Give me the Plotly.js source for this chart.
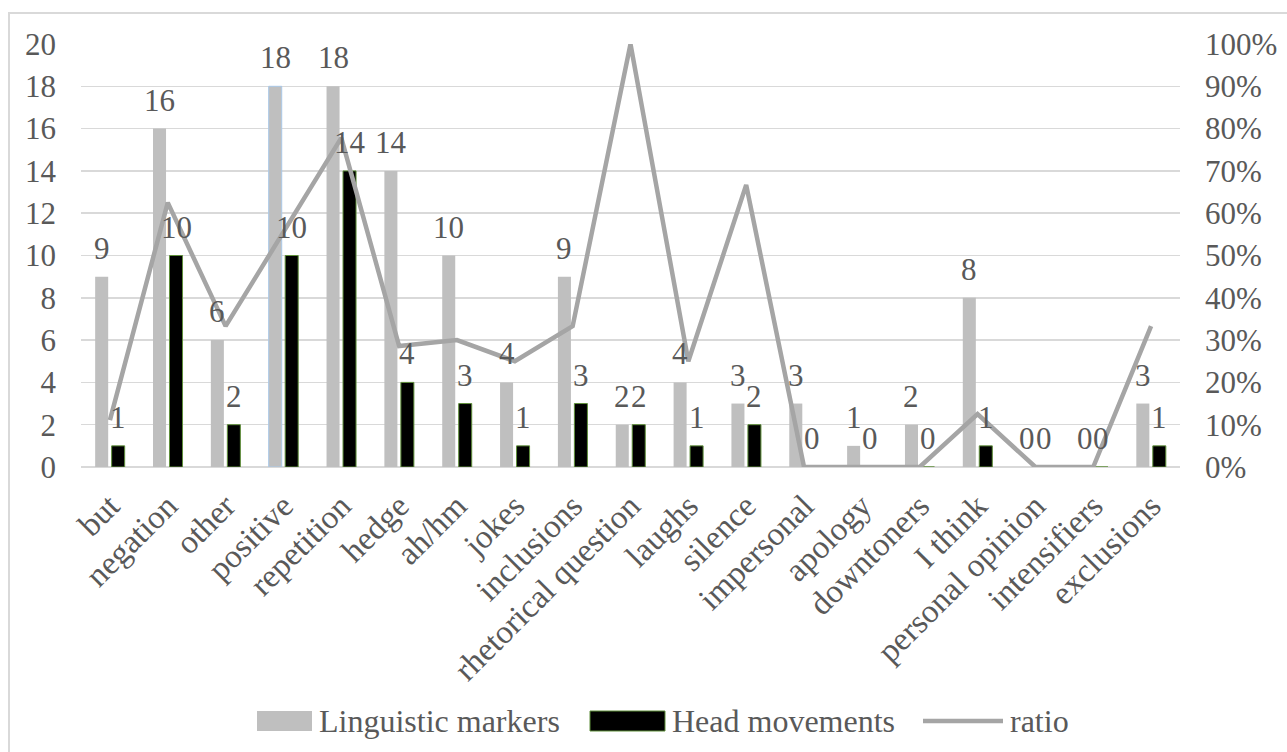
<!DOCTYPE html>
<html>
<head>
<meta charset="utf-8">
<script src="https://cdn.plot.ly/plotly-3.0.1.min.js"></script>
<style>
html,body{margin:0;padding:0;width:1287px;height:752px;overflow:hidden;background:#fff;}
#frame{position:absolute;left:8px;top:12px;width:1300px;height:800px;border:2px solid #d9d9d9;box-sizing:border-box;}
#chart{position:absolute;left:0;top:0;width:1287px;height:752px;}
</style>
</head>
<body>
<div id="frame"></div>
<div id="chart"></div>
<script>
const categories = ["but","negation","other","positive","repetition","hedge","ah/hm","jokes","inclusions","rhetorical question","laughs","silence","impersonal","apology","downtoners","I think","personal opinion","intensifiers","exclusions"];
const linguisticMarkers = [9,16,6,18,18,14,10,4,9,2,4,3,3,1,2,8,0,0,3];
const headMovements = [1,10,2,10,14,4,3,1,3,2,1,2,0,0,0,1,0,0,1];
const ratio = [0.111,0.625,0.333,0.556,0.778,0.286,0.30,0.25,0.333,1.0,0.25,0.667,0,0,0,0.125,0,0,0.333];
const leftTicks = [0,2,4,6,8,10,12,14,16,18,20];
const rightTicks = [0,0.1,0.2,0.3,0.4,0.5,0.6,0.7,0.8,0.9,1.0];
const seriesNames = ["Linguistic markers","Head movements","ratio"];
const seriesColors = ["#bfbfbf","#000000","#a5a5a5"];

const font = "Liberation Serif";
const txt = "#595959";

// plot area geometry (pixels)
const W = 1287, H = 752, M = {l: 81, r: 107, t: 44, b: 285};
const pw = W - M.l - M.r, ph = H - M.t - M.b;
const px = v => (v - M.l) / pw;
const py = v => (H - M.b - v) / ph;

const BARGAP = 0.43, GROUPGAP = 0.21;
// horizontal offset of each bar's centre from its category centre, in pixels
const catW = pw / categories.length;
const slotOff = (1 - BARGAP) * catW / 4;

const lmLineColors = categories.map(c => c === "positive" ? "#a9c8e8" : "rgba(0,0,0,0)");

const traces = [
  {
    type: "bar", name: seriesNames[0], x: categories, y: linguisticMarkers,
    marker: {color: seriesColors[0], line: {color: lmLineColors, width: 1}}, hoverinfo: "x+y"
  },
  {
    type: "bar", name: seriesNames[1], x: categories, y: headMovements,
    marker: {color: seriesColors[1], line: {color: "#5f8f3a", width: 1}}, hoverinfo: "x+y"
  },
  {
    type: "scatter", mode: "lines", name: seriesNames[2], x: categories, y: ratio, yaxis: "y2",
    line: {color: seriesColors[2], width: 4.5}, hoverinfo: "x+y"
  }
];

// data labels placed on the data coordinates
const dataLabels = [];
[[linguisticMarkers, -slotOff], [headMovements, slotOff]].forEach(([vals, dx]) => {
  vals.forEach((v, i) => {
    dataLabels.push({x: categories[i], y: v, xref: "x", yref: "y", text: String(v),
      showarrow: false, xanchor: "center", yanchor: "bottom", xshift: dx, yshift: 9,
      font: {family: font, size: 31, color: txt}});
  });
});

// custom legend (Excel-style wide swatches)
const legY = 721;
const shapes = [
  {type: "rect", xref: "paper", yref: "paper", x0: px(257), x1: px(312), y0: py(711), y1: py(731),
   fillcolor: seriesColors[0], line: {width: 0}},
  {type: "rect", xref: "paper", yref: "paper", x0: px(590), x1: px(665), y0: py(711), y1: py(731),
   fillcolor: seriesColors[1], line: {color: "#5f8f3a", width: 1}},
  {type: "line", xref: "paper", yref: "paper", x0: px(923), x1: px(1003), y0: py(legY), y1: py(legY),
   line: {color: seriesColors[2], width: 4.5}}
];
const legendLabels = [
  {text: seriesNames[0], x: px(317), xanchor: "left"},
  {text: seriesNames[1], x: px(670), xanchor: "left"},
  {text: seriesNames[2], x: px(1008), xanchor: "left"}
].map(a => Object.assign(a, {xref: "paper", yref: "paper", y: py(legY), yanchor: "middle",
  showarrow: false, font: {family: font, size: 32, color: txt}}));

const layout = {
  width: W, height: H,
  margin: {l: M.l, r: M.r, t: M.t, b: M.b, autoexpand: false},
  paper_bgcolor: "rgba(0,0,0,0)", plot_bgcolor: "rgba(0,0,0,0)",
  font: {family: font, size: 32, color: txt},
  barmode: "group", bargap: BARGAP, bargroupgap: GROUPGAP,
  showlegend: false,
  shapes: shapes, annotations: dataLabels.concat(legendLabels),
  xaxis: {
    type: "category", tickangle: -45, showgrid: false, showline: false, ticks: "",
    tickfont: {family: font, size: 33, color: txt}, automargin: false, ticklabelstandoff: 12
  },
  yaxis: {
    range: [0, 20], tickvals: leftTicks, ticktext: leftTicks.map(String),
    showgrid: true, gridcolor: "#d9d9d9", gridwidth: 1.5,
    zeroline: true, zerolinecolor: "#d9d9d9", zerolinewidth: 2,
    showline: false, ticks: "", tickfont: {family: font, size: 31, color: txt},
    automargin: false, ticklabelstandoff: 24
  },
  yaxis2: {
    range: [0, 1], overlaying: "y", side: "right", tickvals: rightTicks,
    ticktext: rightTicks.map(v => Math.round(v * 100) + "%"),
    showgrid: false, zeroline: false, showline: false, ticks: "",
    tickfont: {family: font, size: 31, color: txt}, automargin: false, ticklabelstandoff: 24
  }
};

Plotly.newPlot("chart", traces, layout, {displayModeBar: false, staticPlot: true});
</script>
</body>
</html>
